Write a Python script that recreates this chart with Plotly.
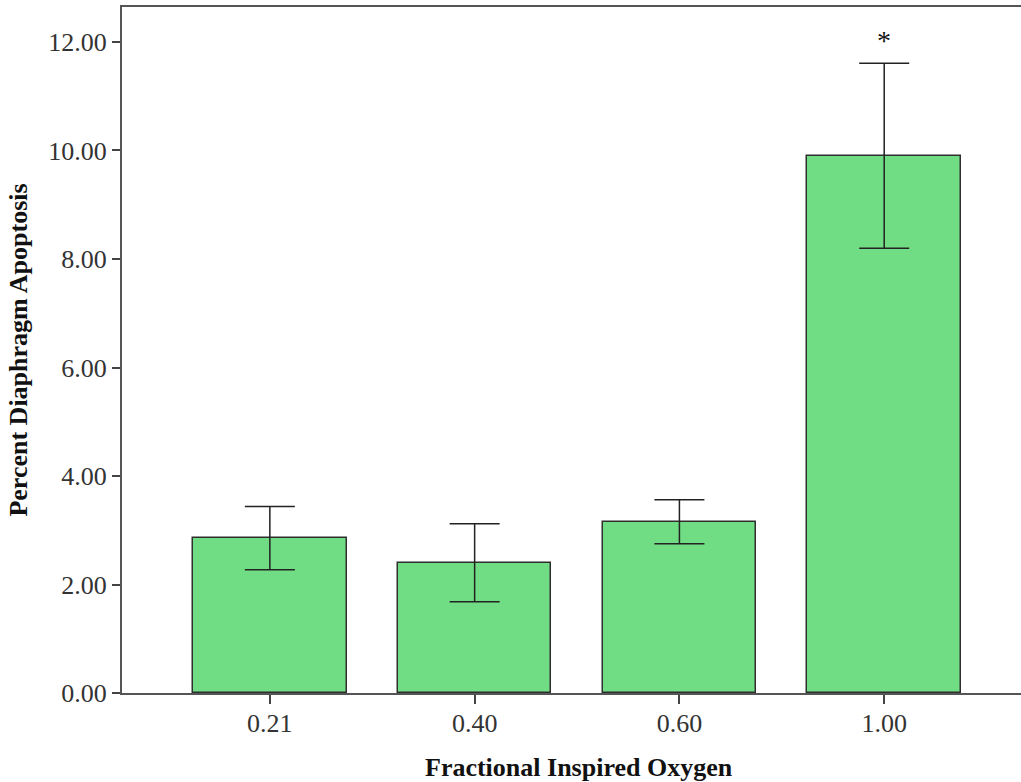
import plotly.graph_objects as go

categories = ["0.21", "0.40", "0.60", "1.00"]
means = [2.85, 2.40, 3.15, 9.90]
upper = [3.44, 3.12, 3.56, 11.61]
lower = [2.27, 1.68, 2.75, 8.20]
y_ticks = [0, 2, 4, 6, 8, 10, 12]
y_tick_labels = ["0.00", "2.00", "4.00", "6.00", "8.00", "10.00", "12.00"]

err_plus = [u - m for u, m in zip(upper, means)]
err_minus = [m - l for m, l in zip(means, lower)]

fig = go.Figure()
fig.add_trace(go.Bar(
    x=list(range(len(categories))), y=means, width=0.75,
    marker=dict(color="#70DC84", line=dict(color="#2f2f2f", width=1.5)),
    error_y=dict(type="data", array=err_plus, arrayminus=err_minus,
                 color="#222222", thickness=1.5, width=25),
))
fig.add_annotation(x=3, y=11.61, text="*", showarrow=False, yshift=23,
                   font=dict(family="Liberation Serif", size=28, color="#111"))
fig.add_annotation(x=0.508, y=-0.109, xref="paper", yref="paper",
                   xanchor="center", yanchor="middle", showarrow=False,
                   text="<b>Fractional Inspired Oxygen</b>",
                   font=dict(family="Liberation Serif", size=26, color="#111"))

font_fam = "Liberation Serif"
fig.update_layout(
    width=1021, height=782,
    margin=dict(l=122, r=0, t=7, b=89),
    plot_bgcolor="white", paper_bgcolor="white",
    showlegend=False, bargap=0,
    font=dict(family=font_fam, size=20, color="#222"),
    xaxis=dict(
        range=[-0.722, 3.668], tickmode="array",
        tickvals=list(range(len(categories))), ticktext=categories,
        showline=True, linecolor="#555", linewidth=2, mirror=True,
        ticks="outside", ticklen=9, tickwidth=2, tickcolor="#444",
        ticklabelstandoff=-3,
        showgrid=False, zeroline=False,
        tickfont=dict(family=font_fam, size=26, color="#333"),
    ),
    yaxis=dict(
        range=[0, 12.645], tickmode="array", tickvals=y_ticks, ticktext=y_tick_labels,
        showline=True, linecolor="#555", linewidth=2,
        ticks="outside", ticklen=8, tickwidth=2, tickcolor="#444",
        showgrid=False, zeroline=False,
        tickfont=dict(family=font_fam, size=26, color="#333"),
        title=dict(text="<b>Percent Diaphragm Apoptosis</b>", standoff=13,
                   font=dict(family=font_fam, size=26, color="#111")),
    ),
)
fig.write_html("out.html", config={"displayModeBar": False},
               post_script="document.body.style.margin='0';")
